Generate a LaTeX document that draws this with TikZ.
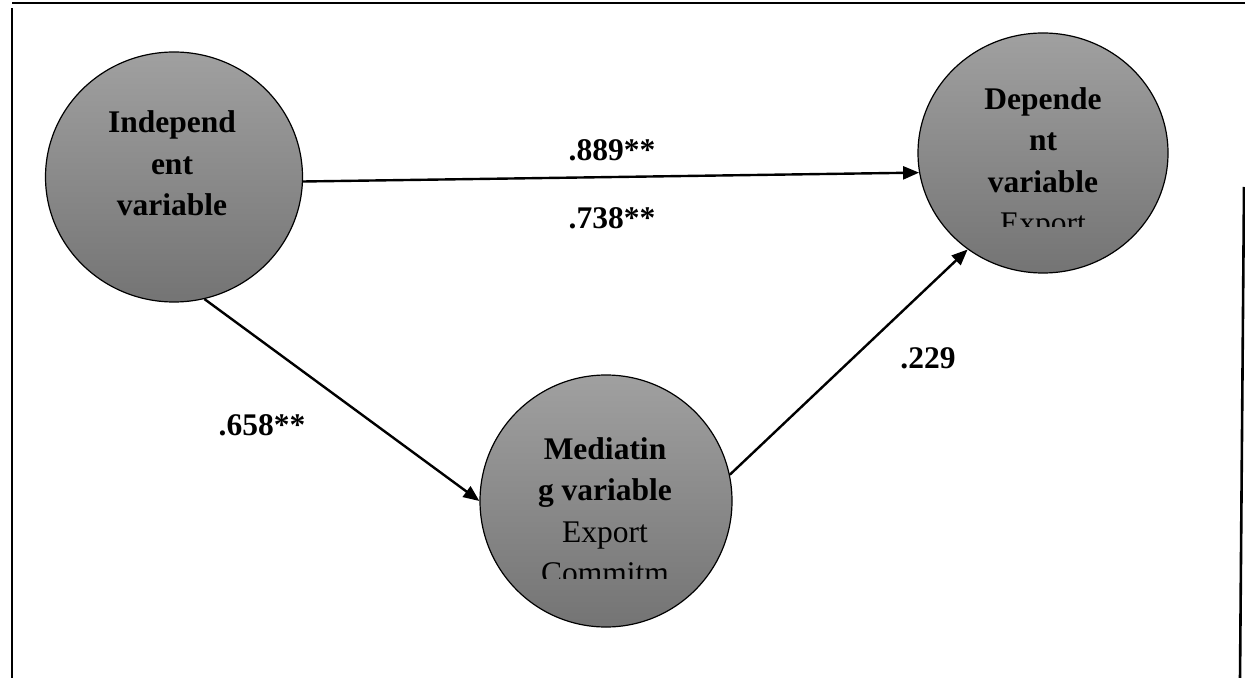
\documentclass[tikz,border=0pt]{standalone}
\usepackage{fontspec}
\setmainfont{Liberation Serif}
\usetikzlibrary{shapes.geometric,arrows.meta}
\definecolor{balltop}{RGB}{160,160,160}
\definecolor{ballbottom}{RGB}{116,116,116}
\tikzset{
  var/.style={ellipse,draw=black,line width=0.6pt,top color=balltop,bottom color=ballbottom,inner sep=0pt},
  vartext/.style={align=center,inner sep=0pt,font=\fontsize{15.75}{20.75}\selectfont\bfseries},
  coef/.style={inner sep=0pt,font=\fontsize{15.75}{19}\selectfont\bfseries},
  link/.style={-{Triangle[length=8pt,width=6.5pt]},line width=1.2pt},
  boxline/.style={line width=1.3pt}
}
\begin{document}
\begin{tikzpicture}[x=0.5pt,y=-0.5pt]
        \useasboundingbox (0,0) rectangle (1245,678);

        % Frame
        \draw[boxline] (12,3) -- (1245,3);
        \draw[boxline] (12,8) -- (12,678);
        \draw[boxline] (1244,187) -- (1240,678);

        % Variables
        \node[var,minimum width=128.5pt,minimum height=125pt] (indep) at (174,177) {};
        \node[var,minimum width=125pt,minimum height=120pt] (dep) at (1043,153) {};
        \node[var,minimum width=126pt,minimum height=126pt] (med) at (606,501) {};

        \node[vartext] (indeptext) at (172,163.5) {Independ\\ent\\variable};
        \begin{scope}
            \clip (930,60) rectangle (1160,227);
            \node[vartext] (deptext) at (1043,164) {Depende\\nt\\variable\\{\mdseries Export}};
        \end{scope}
        \begin{scope}
            \clip (490,400) rectangle (720,578);
            \node[vartext] (medtext) at (605,510.5) {Mediatin\\g variable\\{\mdseries Export}\\{\mdseries Commitm}};
        \end{scope}

        % Paths
        \draw[link] (indep.-2) -- (dep.189);
        \draw[link] (indep.-76) -- (med.180);
        \draw[link] (med.12) -- (dep.232);

        % Coefficients
        \node[coef] (c889) at (612,150) {.889**};
        \node[coef] (c738) at (612,218) {.738**};
        \node[coef] (c658) at (262,425) {.658**};
        \node[coef] (c229) at (928,358) {.229};
\end{tikzpicture}
\end{document}
